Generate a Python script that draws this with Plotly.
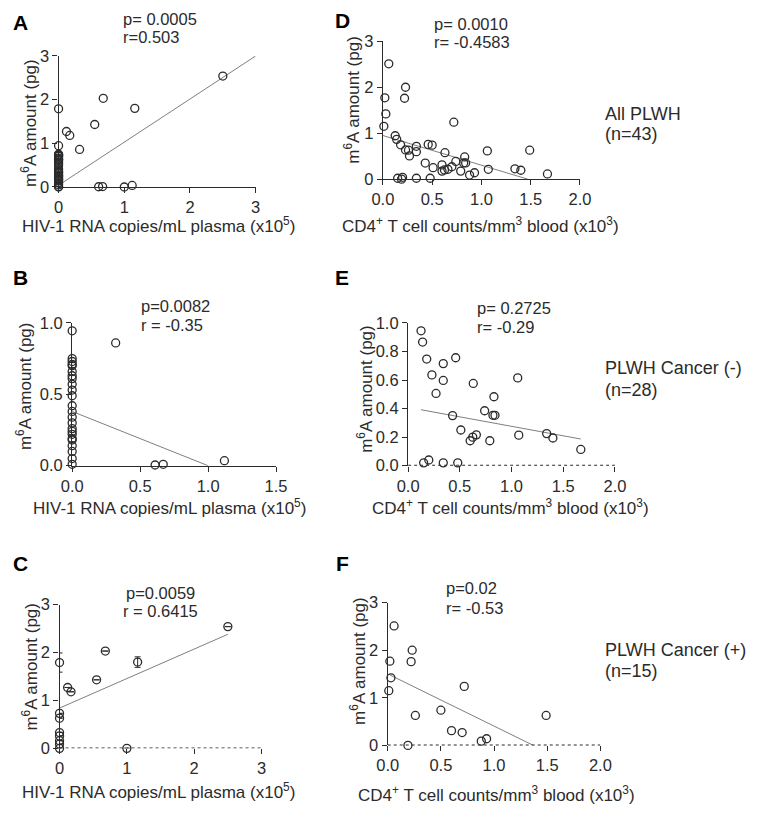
import plotly.graph_objects as go

W, H = 757, 817

# ---------------- data ----------------
# Panel B: PLWH Cancer (-), HIV-1 RNA (x10^5) vs m6A (pg)
b_x = [0, 0, 0, 0, 0, 0, 0, 0, 0, 0, 0, 0, 0, 0, 0, 0, 0, 0, 0, 0, 0, 0, 0, 0,
       0.32, 0.61, 0.67, 1.12]
b_y = [0.945, 0.75, 0.73, 0.71, 0.70, 0.66, 0.63, 0.61, 0.57, 0.53, 0.49, 0.42,
       0.38, 0.34, 0.30, 0.26, 0.24, 0.22, 0.19, 0.18, 0.14, 0.10, 0.05, 0.01,
       0.86, 0.005, 0.01, 0.035]
b_line_x = [0, 1.0]
b_line_y = [0.38, 0.0]

# Panel C: PLWH Cancer (+), HIV-1 RNA (x10^5) vs m6A (pg)
c_x = [0, 0, 0, 0, 0, 0, 0, 0, 0.12, 0.17, 0.55, 0.68, 1.16, 2.50, 1.0]
c_y = [1.79, 0.73, 0.63, 0.33, 0.26, 0.16, 0.09, 0.0, 1.27, 1.18, 1.43, 2.03,
       1.80, 2.54, 0.0]
c_err = [0.2, 0, 0, 0, 0, 0, 0, 0, 0, 0, 0, 0, 0.11, 0, 0]
c_line_x = [0, 2.5]
c_line_y = [0.84, 2.38]

# Panel A: all PLWH (Cancer (-) and Cancer (+) together)
a_x = b_x + c_x
a_y = b_y + c_y
a_line_x = [0, 3.0]
a_line_y = [0.04, 3.0]

# Panel E: PLWH Cancer (-), CD4+ T cells (x10^3) vs m6A (pg)
e_x = [0.125, 0.14, 0.18, 0.23, 0.27, 0.34, 0.34, 0.46, 0.63, 0.43, 0.51, 0.60,
       0.625, 0.66, 0.74, 0.79, 0.83, 0.82, 0.84, 1.06, 1.07, 1.34, 1.40, 1.67,
       0.15, 0.20, 0.34, 0.48]
e_y = [0.945, 0.866, 0.747, 0.636, 0.506, 0.715, 0.597, 0.756, 0.576, 0.351,
       0.25, 0.175, 0.20, 0.216, 0.385, 0.175, 0.483, 0.353, 0.353, 0.615, 0.214,
       0.225, 0.194, 0.114, 0.02, 0.04, 0.02, 0.02]
e_line_x = [0.125, 1.67]
e_line_y = [0.392, 0.187]

# Panel F: PLWH Cancer (+), CD4+ T cells (x10^3) vs m6A (pg)
f_x = [0.06, 0.02, 0.03, 0.01, 0.23, 0.22, 0.72, 0.26, 0.50, 0.60, 0.70, 0.88,
       0.93, 1.49, 0.19]
f_y = [2.51, 1.77, 1.42, 1.15, 2.00, 1.76, 1.24, 0.63, 0.74, 0.31, 0.27, 0.09,
       0.14, 0.63, 0.0]
f_line_x = [0.02, 1.37]
f_line_y = [1.48, 0.0]

# Panel D: all PLWH
d_x = e_x + f_x
d_y = e_y + f_y
d_line_x = [0, 1.47]
d_line_y = [0.95, 0.0]

# axis ticks
hiv_ticks_ac = [0, 1, 2, 3]
hiv_ticks_b = [0, 0.5, 1.0, 1.5]
hiv_ticklabels_b = ["0.0", "0.5", "1.0", "1.5"]
cd4_ticks = [0, 0.5, 1.0, 1.5, 2.0]
cd4_ticklabels = ["0.0", "0.5", "1.0", "1.5", "2.0"]
m6a_ticks_3 = [0, 1, 2, 3]
m6a_ticks_b = [0, 0.5, 1.0]
m6a_ticklabels_b = ["0.0", "0.5", "1.0"]
m6a_ticks_e = [0, 0.2, 0.4, 0.6, 0.8, 1.0]
m6a_ticklabels_e = ["0.0", "0.2", "0.4", "0.6", "0.8", "1.0"]

stats = {
    "A": ["p= 0.0005", "r=0.503"],
    "D": ["p= 0.0010", "r= -0.4583"],
    "B": ["p=0.0082", "r = -0.35"],
    "E": ["p= 0.2725", "r= -0.29"],
    "C": ["p=0.0059", "r = 0.6415"],
    "F": ["p=0.02", "r= -0.53"],
}
groups = {"D": ["All PLWH", "(n=43)"],
          "E": ["PLWH Cancer (-)", "(n=28)"],
          "F": ["PLWH Cancer (+)", "(n=15)"]}

y_title = "m<sup>6</sup>A amount (pg)"
hiv_title = "HIV-1 RNA copies/mL plasma (x10<sup>5</sup>)"
cd4_title = "CD4<sup>+</sup> T cell counts/mm<sup>3</sup> blood (x10<sup>3</sup>)"

# ---------------- layout helpers ----------------
FONT = "Liberation Sans, Arial, Helvetica, sans-serif"
INK = "#2b2b2b"


def fx(px):
    return px / W


def fy(py):
    return 1 - py / H


# pixel boxes: (left, right, top, bottom)
boxes = {
    "A": (49, 252, 48, 182),
    "D": (383, 586, 33, 174),
    "B": (63, 273, 321, 467),
    "E": (409, 622, 321, 467),
    "C": (50, 258, 609, 756),
    "F": (388, 607, 607, 753),
}
order = ["A", "D", "B", "E", "C", "F"]

panels = {
    "A": dict(x=a_x, y=a_y, lx=a_line_x, ly=a_line_y, xr=[0, 3], yr=[0, 3],
              xt=hiv_ticks_ac, xtl=[str(v) for v in hiv_ticks_ac],
              yt=m6a_ticks_3, ytl=[str(v) for v in m6a_ticks_3], dotted=False),
    "D": dict(x=d_x, y=d_y, lx=d_line_x, ly=d_line_y, xr=[0, 2], yr=[0, 3],
              xt=cd4_ticks, xtl=cd4_ticklabels,
              yt=m6a_ticks_3, ytl=[str(v) for v in m6a_ticks_3], dotted=False),
    "B": dict(x=b_x, y=b_y, lx=b_line_x, ly=b_line_y, xr=[0, 1.5], yr=[0, 1],
              xt=hiv_ticks_b, xtl=hiv_ticklabels_b,
              yt=m6a_ticks_b, ytl=m6a_ticklabels_b, dotted=False),
    "E": dict(x=e_x, y=e_y, lx=e_line_x, ly=e_line_y, xr=[0, 2], yr=[0, 1],
              xt=cd4_ticks, xtl=cd4_ticklabels,
              yt=m6a_ticks_e, ytl=m6a_ticklabels_e, dotted=True),
    "C": dict(x=c_x, y=c_y, lx=c_line_x, ly=c_line_y, xr=[0, 3], yr=[0, 3],
              xt=hiv_ticks_ac, xtl=[str(v) for v in hiv_ticks_ac],
              yt=m6a_ticks_3, ytl=[str(v) for v in m6a_ticks_3], dotted=True,
              err=c_err),
    "F": dict(x=f_x, y=f_y, lx=f_line_x, ly=f_line_y, xr=[0, 2], yr=[0, 3],
              xt=cd4_ticks, xtl=cd4_ticklabels,
              yt=m6a_ticks_3, ytl=[str(v) for v in m6a_ticks_3], dotted=True),
}

fig = go.Figure()
layout = dict(
    width=W, height=H, margin=dict(l=0, r=0, t=0, b=0),
    paper_bgcolor="white", plot_bgcolor="white", showlegend=False,
    font=dict(family=FONT, size=16, color=INK),
)
shapes = []
annotations = []

for i, key in enumerate(order):
    p = panels[key]
    n = "" if i == 0 else str(i + 1)
    xa, ya = "x" + n, "y" + n
    L, R, T, B = boxes[key]
    # regression line
    fig.add_trace(go.Scatter(x=p["lx"], y=p["ly"], mode="lines",
                             line=dict(color="#7f7f7f", width=1),
                             xaxis=xa, yaxis=ya, hoverinfo="skip"))
    err = None
    if "err" in p:
        err = dict(type="data", array=p["err"], visible=True, color=INK,
                   thickness=1, width=3)
    fig.add_trace(go.Scatter(x=p["x"], y=p["y"], mode="markers",
                             marker=dict(symbol="circle-open", size=8, color=INK,
                                         line=dict(width=1.3, color=INK)),
                             error_y=err, cliponaxis=False,
                             xaxis=xa, yaxis=ya))
    axis_common = dict(showgrid=False, zeroline=False, ticks="outside",
                       ticklen=5, tickwidth=1.3, tickcolor=INK,
                       linecolor=INK, linewidth=1.4,
                       tickfont=dict(family=FONT, size=16.5, color=INK))
    layout["xaxis" + n] = dict(axis_common, domain=[fx(L), fx(R)], range=p["xr"],
                               tickvals=p["xt"], ticktext=p["xtl"],
                               showline=not p["dotted"],
                               anchor=ya)
    layout["yaxis" + n] = dict(axis_common, domain=[fy(B), fy(T)], range=p["yr"],
                               tickvals=p["yt"], ticktext=p["ytl"],
                               showline=True, anchor=xa)
    if p["dotted"]:
        shapes.append(dict(type="line", xref=xa, yref=ya, x0=p["xr"][0],
                           x1=p["xr"][1], y0=0, y1=0,
                           line=dict(color="#2b2b2b", width=1.8, dash="dot")))

# panel letters
letters = {"A": (10, 14), "D": (341, 12), "B": (10, 275), "E": (341, 275),
           "C": (10, 567), "F": (341, 567)}
for k, (x, y) in letters.items():
    annotations.append(dict(text="<b>%s</b>" % k, x=fx(x), y=fy(y), xref="paper",
                            yref="paper", showarrow=False, xanchor="center",
                            yanchor="middle",
                            font=dict(family=FONT, size=21, color="black")))

# stats text (left-aligned, except C centered)
stat_pos = {"A": (113, 10, 29, "left"), "D": (434, 15, 34, "left"),
            "B": (132, 304, 323, "left"), "E": (478, 306, 325, "left"),
            "C": (154, 597, 616, "center"), "F": (446, 592, 612, "left")}
for k, (x, y1, y2, anc) in stat_pos.items():
    for txt, yy in zip(stats[k], (y1, y2)):
        annotations.append(dict(text=txt, x=fx(x), y=fy(yy), xref="paper",
                                yref="paper", showarrow=False, xanchor=anc,
                                yanchor="middle",
                                font=dict(family=FONT, size=16.5, color=INK)))

# group labels on the right
grp_pos = {"D": (610, 107, 128), "E": (610, 367, 390), "F": (610, 655, 677)}
for k, (x, y1, y2) in grp_pos.items():
    for txt, yy in zip(groups[k], (y1, y2)):
        annotations.append(dict(text=txt, x=fx(x), y=fy(yy), xref="paper",
                                yref="paper", showarrow=False, xanchor="left",
                                yanchor="middle",
                                font=dict(family=FONT, size=18, color=INK)))

# y-axis titles
ytitle_pos = {"A": (19, 116), "D": (351, 93), "B": (14, 386), "E": (365, 388),
              "C": (20, 672), "F": (358, 667)}
for k, (x, y) in ytitle_pos.items():
    annotations.append(dict(text=y_title, x=fx(x), y=fy(y), xref="paper",
                            yref="paper", showarrow=False, textangle=-90,
                            xanchor="center", yanchor="middle",
                            font=dict(family=FONT, size=17, color=INK)))

# x-axis titles
xtitle_pos = {"A": (152, 221, hiv_title), "D": (484, 221, cd4_title),
              "B": (163, 509, hiv_title), "E": (514, 509, cd4_title),
              "C": (152, 800, hiv_title), "F": (500, 803, cd4_title)}
for k, (x, y, t) in xtitle_pos.items():
    annotations.append(dict(text=t, x=fx(x), y=fy(y), xref="paper",
                            yref="paper", showarrow=False, xanchor="center",
                            yanchor="middle",
                            font=dict(family=FONT, size=17, color=INK)))

layout["shapes"] = shapes
layout["annotations"] = annotations
fig.update_layout(**layout)
fig.write_html("out.html")
